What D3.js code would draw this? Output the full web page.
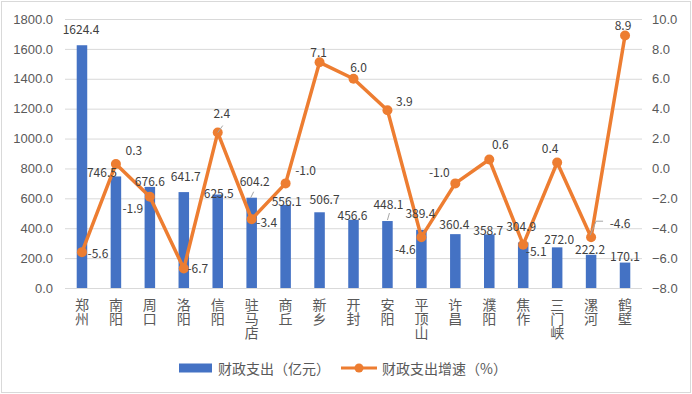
<!DOCTYPE html>
<html>
<head>
<meta charset="utf-8">
<script src="https://cdn.jsdelivr.net/npm/d3@7"></script>
<style>
  body { margin: 0; background: #fff; }
  svg { display: block; font-family: "Noto Sans CJK SC", "Noto Sans", sans-serif; }
  .tick text { fill: #595959; font-size: 13px; }
  .lbl { fill: #404040; font-size: 12px; }
  .xl { writing-mode: vertical-rl; text-orientation: upright; }
</style>
</head>
<body>
<svg id="chart" width="692" height="394"></svg>
<script>
// data
const cities = ["郑州", "南阳", "周口", "洛阳", "信阳", "驻马店", "商丘", "新乡", "开封",
  "安阳", "平顶山", "许昌", "濮阳", "焦作", "三门峡", "漯河", "鹤壁"];
const spending = [1624.4, 746.5, 676.6, 641.7, 625.5, 604.2, 556.1, 506.7, 456.6,
  448.1, 389.4, 360.4, 358.7, 304.9, 272.0, 222.2, 170.1];
const growth = [-5.6, 0.3, -1.9, -6.7, 2.4, -3.4, -1.0, 7.1, 6.0,
  3.9, -4.6, -1.0, 0.6, -5.1, 0.4, -4.6, 8.9];
const leftTicks = [0, 200, 400, 600, 800, 1000, 1200, 1400, 1600, 1800];
const rightTicks = [-8, -6, -4, -2, 0, 2, 4, 6, 8, 10];
const legendNames = ["财政支出（亿元）", "财政支出增速（%）"];

// label placement (pixel offsets from bar top / line point), hand-tuned like Excel
const barLabelOff = [[-1,-17],[-14,-5],[0,-6],[2,-17],[1,-2],[3,-17],[1,-4],[5,-14],[-1,-5],
  [1,-18],[-1,-17],[-1,-11],[-1,-5],[-2,-17],[2,-9],[-1,-6],[0,-7]];
const lineLabelOff = [[16,0],[18,-14],[-17,11],[14,-1],[4,-20],[15,2],[20,-14],[-1,-11],[5,-12],
  [17,-10],[-16,11],[-16,-12],[11,-16],[13,6],[-7,-15],[29,-15],[-2,-11]];

const barcolor = "#4472C4";
const linecolor = "#ED7D31";
const gridcolor = "#D9D9D9";

const svg = d3.select("#chart");
const m = {left: 65, right: 50, top: 19, bottom: 106};
const W = 692 - m.left - m.right, H = 394 - m.top - m.bottom;

svg.append("rect")
  .attr("x", 1.5).attr("y", 1.5).attr("width", 689).attr("height", 391)
  .attr("fill", "#fff").attr("stroke", gridcolor);

const g = svg.append("g").attr("transform", `translate(${m.left},${m.top})`);

const x = d3.scaleBand().domain(cities).range([0, W]).paddingInner(0.69).paddingOuter(0.345);
const yL = d3.scaleLinear().domain([0, 1800]).range([H, 0]);
const yR = d3.scaleLinear().domain([-8, 10]).range([H, 0]);
const cx = (d, i) => x(cities[i]) + x.bandwidth() / 2;

// grid
g.append("g")
  .call(d3.axisLeft(yL).tickValues(leftTicks).tickSize(-W).tickFormat(""))
  .call(s => s.select(".domain").remove())
  .selectAll("line").attr("stroke", gridcolor);

// left axis
g.append("g")
  .call(d3.axisLeft(yL).tickValues(leftTicks).tickSize(0).tickPadding(12).tickFormat(d3.format(".1f")))
  .call(s => s.select(".domain").remove());

// right axis
g.append("g")
  .attr("transform", `translate(${W},0)`)
  .call(d3.axisRight(yR).tickValues(rightTicks).tickSize(0).tickPadding(10).tickFormat(d3.format(".1f")))
  .call(s => s.select(".domain").remove());

// bars
g.selectAll(".bar").data(spending).enter()
  .append("rect")
  .attr("x", (d, i) => x(cities[i]))
  .attr("y", d => yL(d))
  .attr("width", x.bandwidth())
  .attr("height", d => H - yL(d))
  .attr("fill", barcolor);

// x axis line and vertical labels
g.append("line").attr("x1", 0).attr("x2", W).attr("y1", H + 0.5).attr("y2", H + 0.5)
  .attr("stroke", gridcolor);
g.selectAll(".xl").data(cities).enter()
  .append("text").attr("class", "xl")
  .attr("fill", "#595959").attr("font-size", 14)
  .attr("x", (d, i) => cx(d, i))
  .attr("y", H + 9.5)
  .text(d => d);

// line
const line = d3.line().x((d, i) => cx(d, i)).y(d => yR(d));
g.append("path").datum(growth)
  .attr("d", line).attr("fill", "none")
  .attr("stroke", linecolor).attr("stroke-width", 3.5).attr("stroke-linejoin", "round");
g.selectAll(".pt").data(growth).enter()
  .append("circle")
  .attr("cx", cx).attr("cy", d => yR(d)).attr("r", 5)
  .attr("fill", linecolor);

// leader lines
const leader = "#A6A6A6";
const leaders = [
  [[cx(0, 4), yR(growth[4])], [cx(0, 4) + 5, yR(growth[4]) - 7]],
  [[cx(0, 5) - 1, yL(spending[5])], [cx(0, 5) + 2, yL(spending[5]) - 6]],
  [[cx(0, 9), yL(spending[9]) - 1], [cx(0, 9) + 2, yL(spending[9]) - 8]],
  [[cx(0, 15) - 1, yR(growth[15]) - 2], [cx(0, 15) + 5, yR(growth[15]) - 16], [cx(0, 15) + 12, yR(growth[15]) - 16]]
];
leaders.forEach(p => {
  g.append("path").attr("d", d3.line()(p)).attr("fill", "none")
    .attr("stroke", leader).attr("stroke-width", 1);
});

// data labels
g.selectAll(".bl").data(spending).enter()
  .append("text").attr("class", "lbl")
  .attr("text-anchor", "middle").attr("dominant-baseline", "central")
  .attr("x", (d, i) => cx(d, i) + barLabelOff[i][0])
  .attr("y", (d, i) => yL(d) + barLabelOff[i][1])
  .text(d => d.toFixed(1));
g.selectAll(".ll").data(growth).enter()
  .append("text").attr("class", "lbl")
  .attr("text-anchor", "middle").attr("dominant-baseline", "central")
  .attr("x", (d, i) => cx(d, i) + lineLabelOff[i][0])
  .attr("y", (d, i) => yR(d) + lineLabelOff[i][1])
  .text(d => d.toFixed(1));

// legend
const lg = svg.append("g").attr("transform", "translate(0,368)");
lg.append("rect").attr("x", 179).attr("y", -4.5).attr("width", 33).attr("height", 9).attr("fill", barcolor);
lg.append("text").attr("x", 218).attr("y", 0).attr("dominant-baseline", "central")
  .attr("fill", "#595959").attr("font-size", 14).text(legendNames[0]);
lg.append("line").attr("x1", 341).attr("x2", 377).attr("y1", 0).attr("y2", 0)
  .attr("stroke", linecolor).attr("stroke-width", 3);
lg.append("circle").attr("cx", 359).attr("cy", 0).attr("r", 4.5).attr("fill", linecolor);
lg.append("text").attr("x", 382).attr("y", 0).attr("dominant-baseline", "central")
  .attr("fill", "#595959").attr("font-size", 14).text(legendNames[1]);
</script>
</body>
</html>
